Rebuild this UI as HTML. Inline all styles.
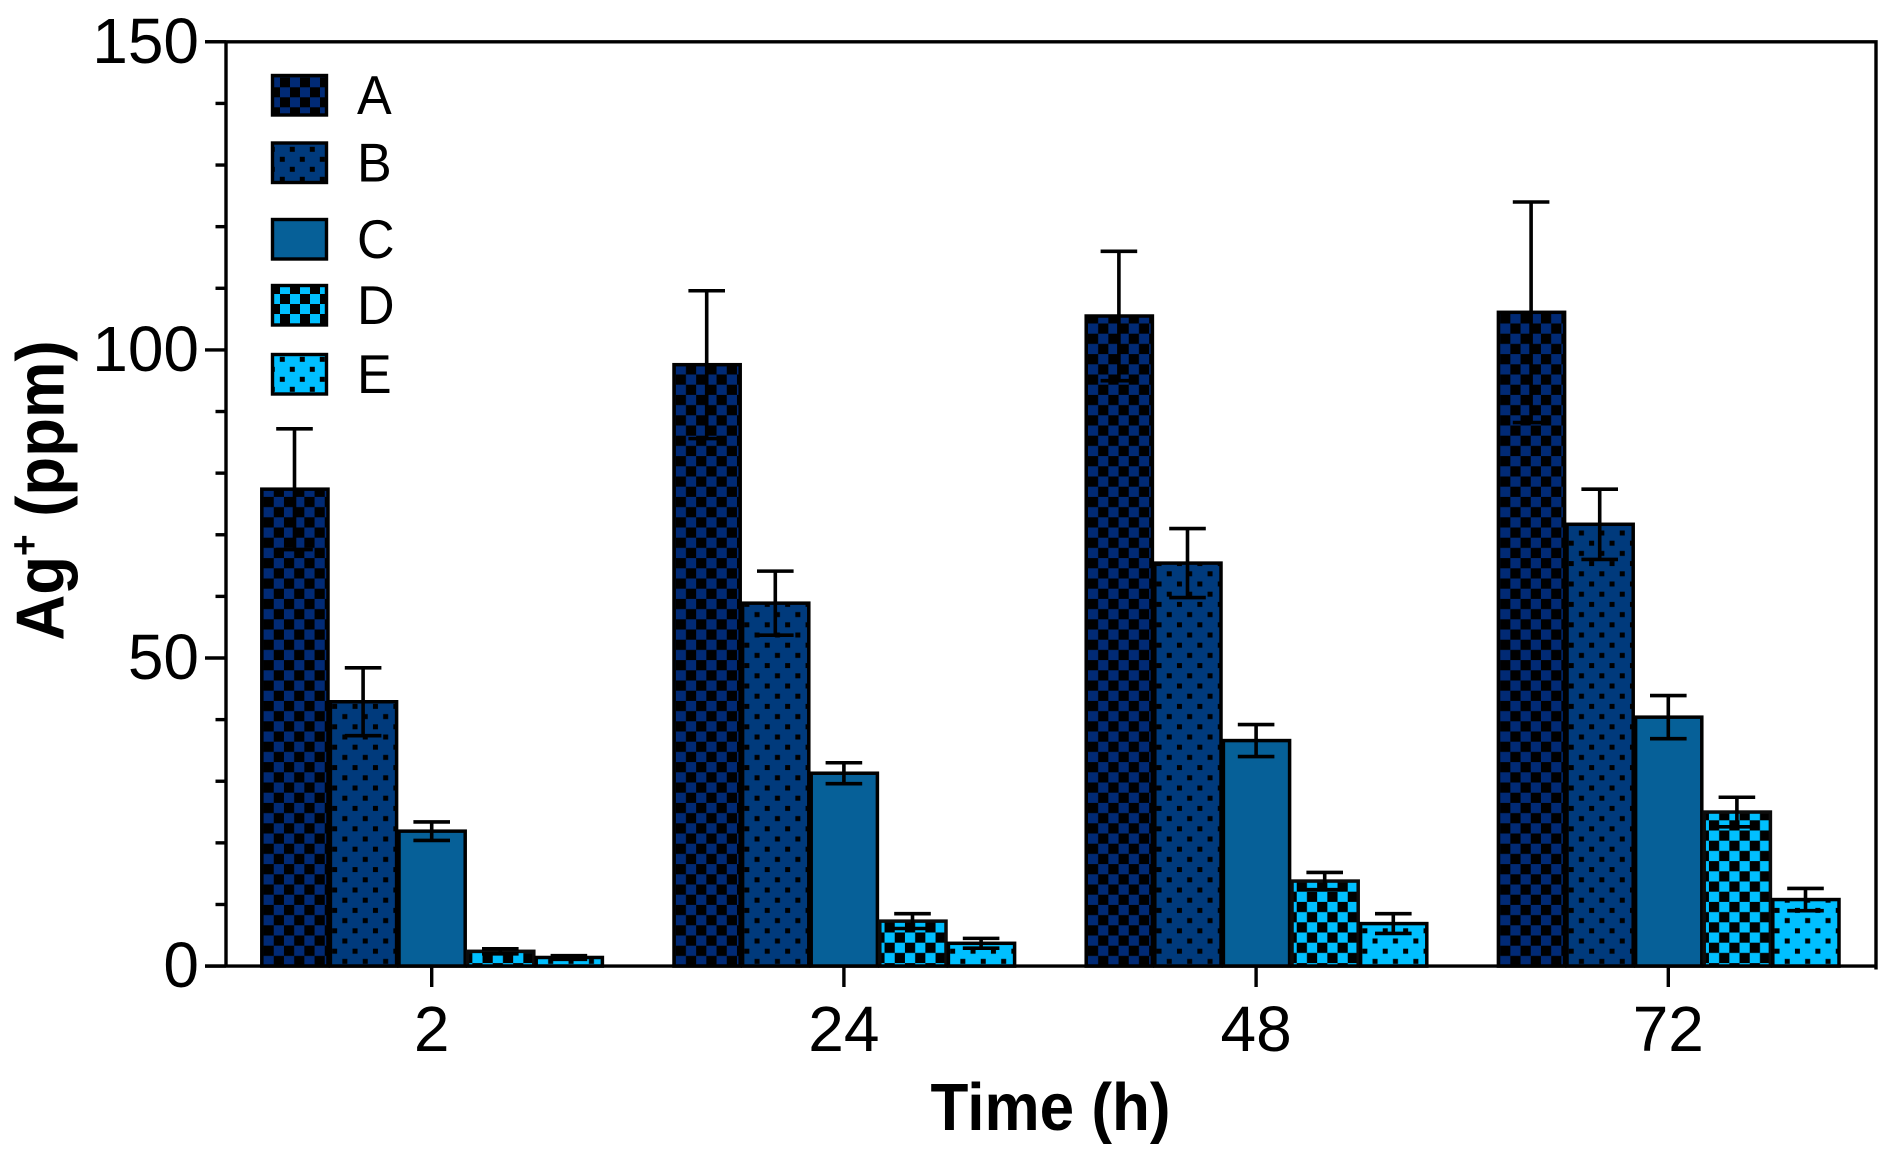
<!DOCTYPE html>
<html>
<head>
<meta charset="utf-8">
<title>Ag+ release over time</title>
<style>
html,body{margin:0;padding:0;background:#fff;width:1901px;height:1155px;overflow:hidden}
svg{display:block}
text{font-family:"Liberation Sans",Arial,sans-serif;fill:#000}
</style>
</head>
<body>
<svg id="chart" xmlns="http://www.w3.org/2000/svg" width="1901" height="1155" viewBox="0 0 1901 1155">
  <defs id="defs"></defs>
  <g id="marks"></g>
  <g id="axes"></g>
  <g id="legend"></g>
  <text transform="translate(1050.5,1130) scale(1,1.07)" text-anchor="middle" font-size="62" font-weight="bold">Time (h)</text>
  <text transform="translate(63.3,490.5) rotate(-90) scale(1,1.07)" text-anchor="middle" font-size="63.5" font-weight="bold">Ag<tspan dy="-24" font-size="37">+</tspan><tspan dy="24"> (ppm)</tspan></text>
</svg>
<script>
const categories = ['2', '24', '48', '72'];
const seriesNames = ['A', 'B', 'C', 'D', 'E'];
const valuesA = [77.4, 97.6, 105.5, 106.1];
const valuesB = [42.9, 58.9, 65.4, 71.7];
const valuesC = [21.9, 31.3, 36.6, 40.4];
const valuesD = [2.4, 7.3, 13.8, 25.0];
const valuesE = [1.4, 3.7, 6.9, 10.8];
const errorsA = [9.8, 12.0, 10.5, 17.9];
const errorsB = [5.5, 5.2, 5.6, 5.7];
const errorsC = [1.5, 1.7, 2.6, 3.5];
const errorsD = [0.4, 1.2, 1.4, 2.4];
const errorsE = [0.3, 0.8, 1.6, 1.8];
const yMajorTicks = [0, 50, 100, 150];
const yMinorTicks = [10, 20, 30, 40, 60, 70, 80, 90, 110, 120, 130, 140];

const NS = 'http://www.w3.org/2000/svg';
const allValues = [valuesA, valuesB, valuesC, valuesD, valuesE];
const allErrors = [errorsA, errorsB, errorsC, errorsD, errorsE];
const fills = ['#012a75', '#003a7c', '#066098', '#00bfff', '#00bfff'];
const kinds = ['check', 'dots', 'solid', 'check', 'dots'];
const strokeCols = ['#000', '#000', '#000', '#0c0c0c', '#000'];
const phaseShift = [0, 0, 0, 3, 0];

const plot = {left: 226, right: 1876, top: 41.8, bottom: 966.1};
const yMax = 150;
function yScale(v) { return plot.bottom - (v / yMax) * (plot.bottom - plot.top); }
const firstCenter = 431.7, groupPitch = 412.2, barPitch = 68.6, barStroke = 3.5;
function groupCenter(g) { return firstCenter + g * groupPitch; }
function barX(g, s) { return groupCenter(g) + (s - 2) * barPitch; }

function make(tag, attrs, parent) {
  const el = document.createElementNS(NS, tag);
  for (const k in attrs) el.setAttribute(k, attrs[k]);
  parent.appendChild(el);
  return el;
}

const defs = document.getElementById('defs');
let patternCount = 0;
function fillFor(s, ox, oy, cell) {
  if (kinds[s] === 'solid') return fills[s];
  const id = 'p' + (patternCount++);
  const p = make('pattern', {id: id, patternUnits: 'userSpaceOnUse', width: cell * 2, height: cell * 2,
    patternTransform: 'translate(' + ox + ',' + oy + ')'}, defs);
  make('rect', {x: 0, y: 0, width: cell * 2, height: cell * 2, fill: fills[s]}, p);
  if (kinds[s] === 'check') {
    make('rect', {x: 0, y: 0, width: cell, height: cell, fill: '#000'}, p);
    make('rect', {x: cell, y: cell, width: cell, height: cell, fill: '#000'}, p);
  } else {
    make('rect', {x: 0, y: 3, width: 5, height: 5, fill: '#000'}, p);
    make('rect', {x: cell, y: cell + 3, width: 5, height: 5, fill: '#000'}, p);
  }
  return 'url(#' + id + ')';
}

const marks = document.getElementById('marks');
categories.forEach(function (cat, g) {
  allValues.forEach(function (vals, s) {
    const cx = barX(g, s), top = yScale(vals[g]), err = allErrors[s][g];
    const w = barPitch - 2.4;
    const left = cx - w / 2 + 0.4;
    const bar = make('rect', {x: left, y: top, width: w, height: plot.bottom - top,
      fill: fillFor(s, left + barStroke / 2 + phaseShift[s], plot.bottom - phaseShift[s], 10.2),
      stroke: strokeCols[s], 'stroke-width': barStroke}, marks);
    
    
    const yHi = yScale(vals[g] + err), yLo = yScale(vals[g] - err);
    const eb = make('path', {d: 'M' + (cx - 18.3) + ' ' + yHi + 'H' + (cx + 18.3) + 'M' + cx + ' ' + yHi + 'V' + yLo + 'M' + (cx - 18.3) + ' ' + yLo + 'H' + (cx + 18.3),
      fill: 'none', stroke: '#000', 'stroke-width': 3.6}, marks);
    
    
  });
});

const axes = document.getElementById('axes');
const frame = make('path', {d: 'M' + plot.left + ' ' + plot.bottom + 'V' + plot.top + 'M205 ' + plot.top + 'H' + plot.right + 'V969.5M205 ' + plot.bottom + 'H' + plot.right,
  fill: 'none', stroke: '#000', 'stroke-width': 3.4}, axes);



yMajorTicks.forEach(function (v) {
  const y = yScale(v);
  const t = make('line', {x1: 205, x2: plot.left, y1: y, y2: y, stroke: '#000', 'stroke-width': 3.4}, axes);
  
  
  const lab = make('text', {x: 199, y: y + 21, 'text-anchor': 'end', 'font-size': 64}, axes);
  lab.textContent = String(v);
  
  
});
yMinorTicks.forEach(function (v) {
  const y = yScale(v);
  const t = make('line', {x1: 215.5, x2: plot.left, y1: y, y2: y, stroke: '#000', 'stroke-width': 3.4}, axes);
  
  
});
categories.forEach(function (cat, g) {
  const x = groupCenter(g);
  const t = make('line', {x1: x, x2: x, y1: plot.bottom, y2: 987, stroke: '#000', 'stroke-width': 3.4}, axes);
  
  
  const lab = make('text', {x: x, y: 1051, 'text-anchor': 'middle', 'font-size': 64}, axes);
  lab.textContent = cat;
  
  
});

const legend = document.getElementById('legend');
const legendTops = [75.5, 143, 219.5, 285.5, 354.5];
const legendPhaseY = [77.3, 153.8, 0, 294, 353.8];
const legendPhaseX = [280, 279.8, 0, 280, 279.8];
seriesNames.forEach(function (name, s) {
  const y = legendTops[s];
  const sw = make('rect', {x: 272.5, y: y, width: 54, height: 39.5, fill: fillFor(s, legendPhaseX[s], legendPhaseY[s], 10),
    stroke: '#000', 'stroke-width': 3.4}, legend);
  
  
  const lab = make('text', {transform: 'translate(357,' + (y + 38.5) + ') scale(1,1.06)', 'font-size': 52}, legend);
  lab.textContent = name;
  
  
});
</script>
</body>
</html>
